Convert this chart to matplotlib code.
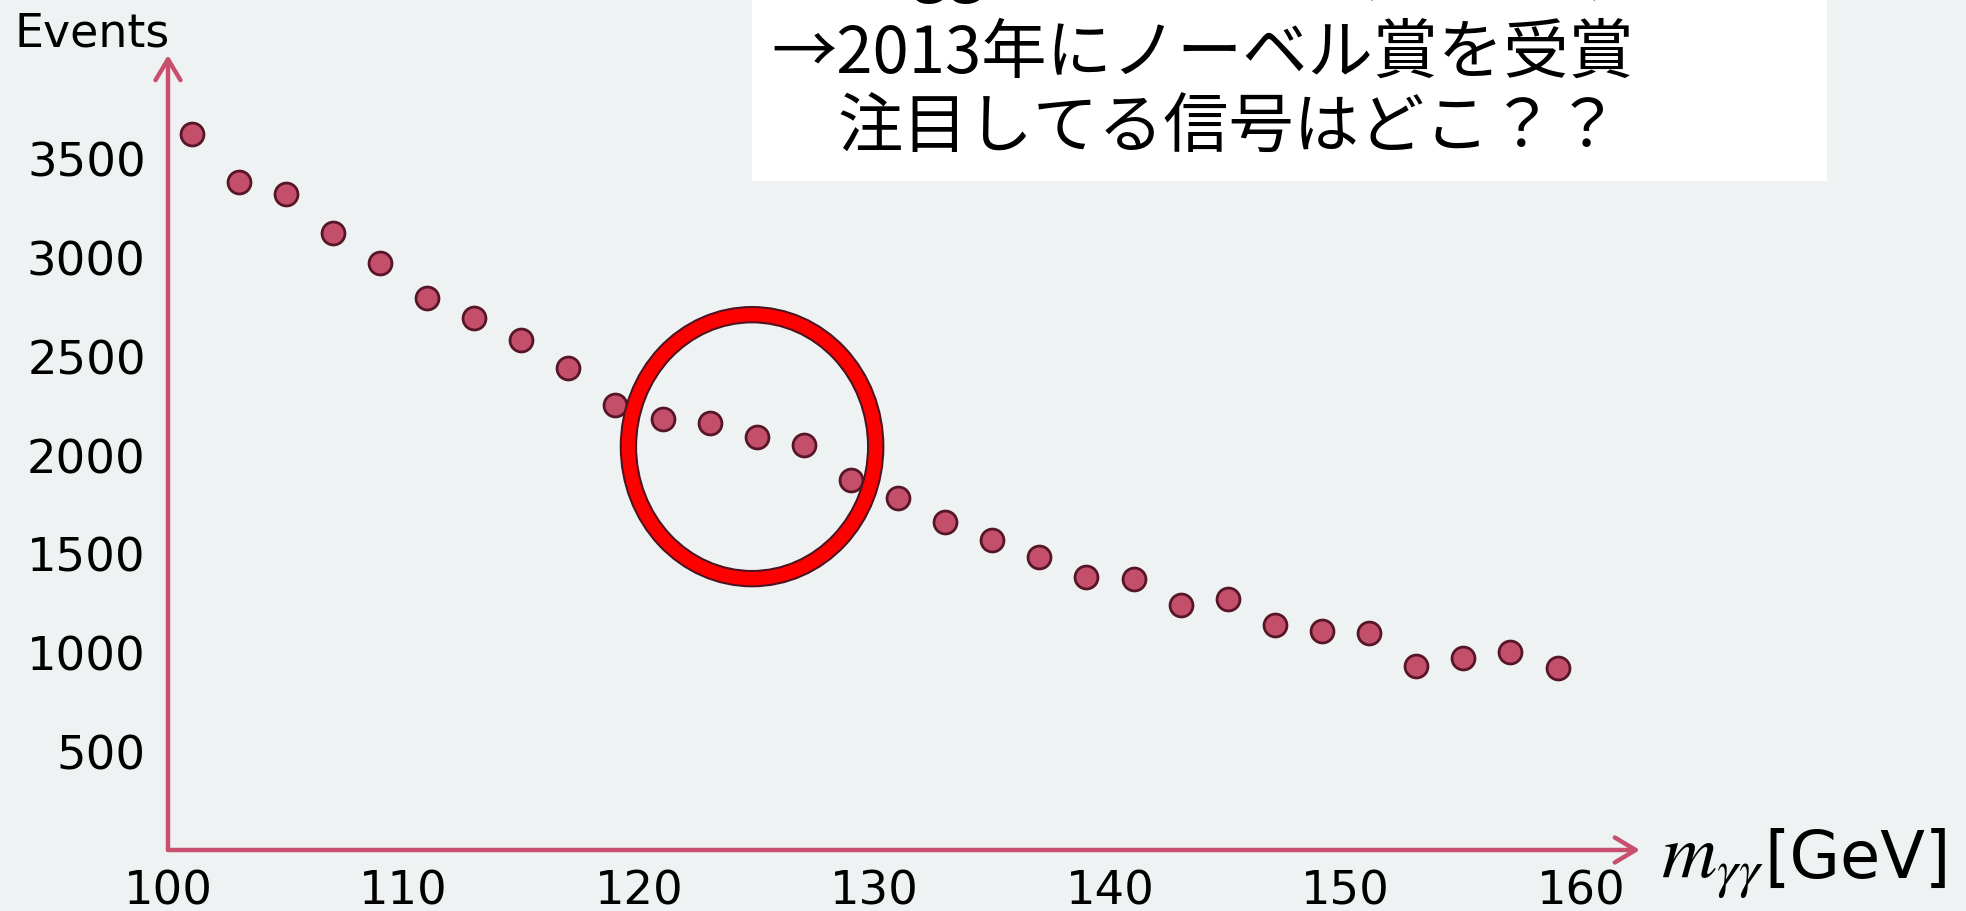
# -*- coding: utf-8 -*-
# diphoton invariant mass spectrum with the 125 GeV bump circled
import numpy as np
import matplotlib
matplotlib.use("Agg")
import matplotlib.pyplot as plt
from matplotlib.patches import Ellipse, Rectangle

plt.rcParams['font.family'] = ['DejaVu Sans', 'Noto Sans CJK JP']
plt.rcParams['mathtext.fontset'] = 'stix'

# data: mass bins [GeV] and event counts
mass = np.arange(101, 160, 2)
events = [3620, 3380, 3320, 3120, 2970, 2790, 2690, 2580, 2440, 2250,
          2180, 2160, 2090, 2050, 1870, 1780, 1660, 1570, 1480, 1380,
          1370, 1240, 1270, 1140, 1110, 1100, 930, 970, 1000, 920]
xticks = [100, 110, 120, 130, 140, 150, 160]
yticks = [500, 1000, 1500, 2000, 2500, 3000, 3500]

bg = '#EEF2F3'
axis_col = '#C8506E'
pt_face = '#C44F6B'
pt_edge = '#561628'

fig = plt.figure(figsize=(19.66, 9.12), dpi=100, facecolor=bg)
ax = fig.add_axes([0.08545, 0.0669, 0.7487, 0.8717])
ax.set_facecolor(bg)
ax.set_xlim(100, 162.5)
ax.set_ylim(0, 4021)
for s in ax.spines.values():
    s.set_visible(False)

ax.plot(mass, events, 'o', ms=16.5, mfc=pt_face, mec=pt_edge, mew=2.0,
        clip_on=False, zorder=3)

ax.set_xticks(xticks)
ax.set_yticks(yticks)
ax.tick_params(length=0, labelsize=33.5)
ax.tick_params(axis='x', pad=13)
ax.tick_params(axis='y', pad=16)

# axis arrows
arw = dict(arrowstyle='->,head_length=0.5,head_width=0.3', color=axis_col,
           lw=3.2, shrinkA=0, shrinkB=0, mutation_scale=30)
ax.annotate('', xy=(1, 0), xytext=(0, 0), xycoords='axes fraction',
            textcoords='axes fraction', arrowprops=arw, annotation_clip=False)
ax.annotate('', xy=(0, 1), xytext=(0, 0), xycoords='axes fraction',
            textcoords='axes fraction', arrowprops=arw, annotation_clip=False)

fig.text(0.0468, 0.9627, 'Events', fontsize=33, ha='center', va='center')
fig.text(0.845, 0.0373, r'$m_{\gamma\gamma}$', fontsize=55,
         ha='left', va='baseline')
fig.text(0.8975, 0.0373, '[GeV]', fontsize=47, ha='left', va='baseline')

# circle around the signal region
ring_x, ring_y, ring_w, ring_h = 124.8, 2040, 10.5, 1335
ax.add_patch(Ellipse((ring_x, ring_y), ring_w, ring_h, fill=False,
                     ec='#4A1420', lw=12.5, zorder=4))
ax.add_patch(Ellipse((ring_x, ring_y), ring_w, ring_h, fill=False,
                     ec='#FF0000', lw=9.6, zorder=5))

# text box
fig.patches.append(Rectangle((0.3825, 0.8004), 0.5468, 0.2, transform=fig.transFigure,
                             fc='white', ec='none', zorder=1))
cjk = ['Noto Sans CJK JP', 'DejaVu Sans']
fig.text(0.3967, 1.013, '・Higgs粒子の発見 (2012年)', fontsize=47, family=cjk,
         va='baseline', zorder=2)
fig.text(0.3922, 0.92, '→2013年にノーベル賞を受賞', fontsize=47, family=cjk,
         va='baseline', zorder=2)
fig.text(0.4262, 0.8377, '注目してる信号はどこ？？', fontsize=47, family=cjk,
         va='baseline', zorder=2)

fig.savefig('out.png', dpi=100, facecolor=bg)
